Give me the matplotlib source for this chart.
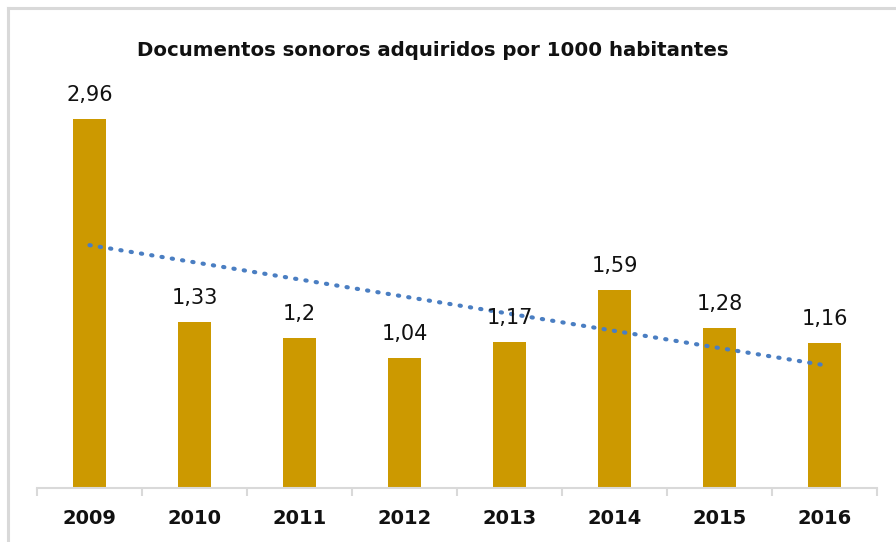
import matplotlib
matplotlib.use("Agg")
import matplotlib.pyplot as plt
import numpy as np
from matplotlib.lines import Line2D

years = ["2009", "2010", "2011", "2012", "2013", "2014", "2015", "2016"]
values = [2.96, 1.33, 1.2, 1.04, 1.17, 1.59, 1.28, 1.16]
labels = ["2,96", "1,33", "1,2", "1,04", "1,17", "1,59", "1,28", "1,16"]

W, H = 896, 542
fig = plt.figure(figsize=(W / 100, H / 100), dpi=100)
plt.rcParams['font.family'] = ['DejaVu Sans']

# axes: x from 37 to 877 px, baseline at y=488, 124.7 px per unit
ymax = 3.2
ax_bottom = 488
ax_top = ax_bottom - ymax * 124.7
ax = fig.add_axes([37 / W, 1 - ax_bottom / H, 840 / W, (ax_bottom - ax_top) / H])

x = np.arange(len(values))
ax.bar(x, values, width=0.31, color="#CC9900", zorder=2)

# linear trendline
coef = np.polyfit(x, values, 1)
ax.plot(x, np.polyval(coef, x), linestyle=(0, (0.3, 2.2)), dash_capstyle='round',
        color="#4A7EC2", linewidth=3.0, zorder=3)

for xi, v, lab in zip(x, values, labels):
    ax.annotate(lab, (xi, v), xytext=(0, 10), textcoords="offset points",
                ha="center", va="bottom", fontsize=15, color="#111111", zorder=4)

ax.set_xlim(-0.5, len(values) - 0.5)
ax.set_ylim(0, ymax)
ax.set_yticks([])
for s in ["top", "right", "left"]:
    ax.spines[s].set_visible(False)
ax.spines["bottom"].set_color("#D9D9D9")
ax.spines["bottom"].set_linewidth(1.5)

ax.set_xticks(np.arange(-0.5, len(values), 1.0), minor=False)
ax.set_xticklabels([])
ax.tick_params(axis="x", which="major", length=6, width=1.5, color="#D9D9D9", direction="out")
ax.set_xticks(x, minor=True)
ax.set_xticklabels(years, minor=True, fontsize=14, fontweight="bold", color="#111111")
ax.tick_params(axis="x", which="minor", length=0, pad=15)

fig.text(433 / W, 1 - 50 / H, "Documentos sonoros adquiridos por 1000 habitantes",
         ha="center", va="center", fontsize=14.2, fontweight="bold", color="#111111")

# chart border (top and left visible)
fig.add_artist(Line2D([7.5 / W, 1], [1 - 7.5 / H, 1 - 7.5 / H], color="#D9D9D9", linewidth=2.2,
                      transform=fig.transFigure))
fig.add_artist(Line2D([7.5 / W, 7.5 / W], [0, 1 - 7.5 / H], color="#D9D9D9", linewidth=2.2,
                      transform=fig.transFigure))

fig.savefig("out.png", dpi=100)
